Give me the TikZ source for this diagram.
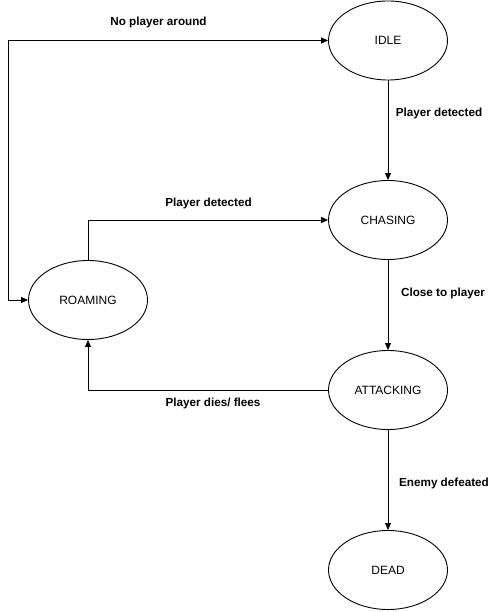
\documentclass[tikz,border=0pt]{standalone}
\usepackage{fontspec}
\setmainfont{Liberation Sans}
\usetikzlibrary{shapes.geometric,arrows.meta}
\begin{document}
\begin{tikzpicture}[x=1pt,y=-1pt,
  state/.style={ellipse,draw,line width=0.9pt,minimum width=119pt,minimum height=79pt,inner sep=0pt,font=\fontsize{12}{14}\selectfont},
  lbl/.style={font=\bfseries\fontsize{11.7}{13}\selectfont,inner sep=0pt},
  conn/.style={line width=0.9pt,-{Triangle[length=7pt,width=6pt]}}]
\useasboundingbox (0,0) rectangle (490,612);
\node[state] (idle) at (388,40.5) {IDLE};
\node[state] (chasing) at (388,220) {CHASING};
\node[state] (roaming) at (88,300) {ROAMING};
\node[state] (attacking) at (388,390) {ATTACKING};
\node[state] (dead) at (388,570) {DEAD};
\coordinate (c1) at (8,300);
\coordinate (c2) at (8,40.5);
\draw[line width=0.9pt,{Triangle[length=7pt,width=6pt]}-{Triangle[length=7pt,width=6pt]}] (roaming.west) -- (c1) -- (c2) -- (idle.west);
\draw[conn] (idle.south) -- (chasing.north);
\draw[conn] (chasing.south) -- (attacking.north);
\draw[conn] (attacking.south) -- (dead.north);
\draw[conn] (roaming.north) |- (chasing.west);
\draw[conn] (attacking.west) -| (roaming.south);
\node[lbl] (l1) at (158.5,22) {No player around};
\node[lbl] (l2) at (439,113) {Player detected};
\node[lbl] (l3) at (208.5,203) {Player detected};
\node[lbl] (l4) at (443,293) {Close to player};
\node[lbl] (l5) at (213,403) {Player dies/ flees};
\node[lbl] (l6) at (444,483) {Enemy defeated};
\end{tikzpicture}
\end{document}
